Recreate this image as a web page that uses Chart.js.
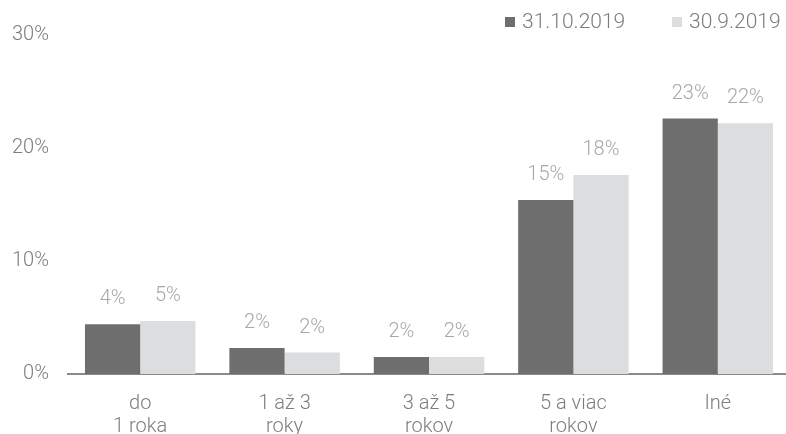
<!DOCTYPE html>
<html lang="sk">
<head>
    <meta charset="UTF-8">
    <title>Splatnosť</title>
    <script src="https://cdn.jsdelivr.net/npm/chart.js"></script>
    <style>
        html, body { margin: 0; padding: 0; background: #fff; overflow: hidden; }
        .wrap { width: 790px; height: 434px; }
    </style>
</head>
<body>
    <div class="wrap">
        <canvas id="barChart" width="790" height="434"></canvas>
    </div>

    <script>
        // data
        const categories = [['do', '1 roka'], ['1 až 3', 'roky'], ['3 až 5', 'rokov'], ['5 a viac', 'rokov'], ['Iné']];
        const seriesNames = ['31.10.2019', '30.9.2019'];
        const oct2019 = [4.4, 2.3, 1.5, 15.4, 22.6];
        const sep2019 = [4.7, 1.9, 1.5, 17.6, 22.2];
        const yTicks = [0, 10, 20, 30];

        const FONT = 'Roboto, "Liberation Sans", sans-serif';
        const darkGray = '#6e6e6e';
        const lightGray = '#dcdddf';

        // values above the bars
        const valueLabels = {
            id: 'valueLabels',
            afterDatasetsDraw(chart) {
                const ctx = chart.ctx;
                ctx.save();
                ctx.font = '300 20px ' + FONT;
                ctx.fillStyle = '#a3a9ae';
                ctx.textAlign = 'center';
                ctx.textBaseline = 'middle';
                chart.data.datasets.forEach((ds, i) => {
                    chart.getDatasetMeta(i).data.forEach((bar, j) => {
                        ctx.fillText(Math.round(ds.data[j]) + '%', bar.x, bar.y - 25);
                    });
                });
                ctx.restore();
            }
        };

        // small legend in the top right corner
        const cornerLegend = {
            id: 'cornerLegend',
            afterDraw(chart) {
                const ctx = chart.ctx;
                ctx.save();
                ctx.font = '300 21px ' + FONT;
                ctx.textBaseline = 'middle';
                let x = 505;
                chart.data.datasets.forEach((ds) => {
                    ctx.fillStyle = ds.backgroundColor;
                    ctx.fillRect(x, 17, 10, 10);
                    ctx.fillStyle = '#7d7d7d';
                    ctx.fillText(ds.label, x + 17, 22.5);
                    x += 167;
                });
                ctx.restore();
            }
        };

        const ctx = document.getElementById('barChart').getContext('2d');
        new Chart(ctx, {
            type: 'bar',
            data: {
                labels: categories,
                datasets: [{
                    label: seriesNames[0],
                    data: oct2019,
                    backgroundColor: darkGray,
                    categoryPercentage: 0.765,
                    barPercentage: 1.0
                }, {
                    label: seriesNames[1],
                    data: sep2019,
                    backgroundColor: lightGray,
                    categoryPercentage: 0.765,
                    barPercentage: 1.0
                }]
            },
            options: {
                responsive: false,
                animation: false,
                layout: { padding: { top: 35, left: 0, right: 0, bottom: 0 } },
                plugins: {
                    legend: { display: false },
                    tooltip: { enabled: false }
                },
                scales: {
                    x: {
                        grid: { display: false, drawTicks: false },
                        border: { display: true, color: '#8a8a8a', width: 2 },
                        ticks: {
                            color: '#7d7d7d',
                            font: { family: FONT, size: 20, weight: '300', lineHeight: 1.15 },
                            padding: 18,
                            maxRotation: 0,
                            autoSkip: false
                        },
                        afterFit(scale) { scale.height = 60; }
                    },
                    y: {
                        min: 0,
                        max: 30,
                        afterBuildTicks(scale) {
                            scale.ticks = yTicks.map(v => ({ value: v }));
                        },
                        grid: { display: false, drawTicks: false },
                        border: { display: false },
                        ticks: {
                            color: '#7d7d7d',
                            font: { family: FONT, size: 20, weight: '300' },
                            padding: 19,
                            callback: v => v + '%'
                        },
                        afterFit(scale) { scale.width = 68; }
                    }
                }
            },
            plugins: [valueLabels, cornerLegend]
        });
    </script>
</body>
</html>
